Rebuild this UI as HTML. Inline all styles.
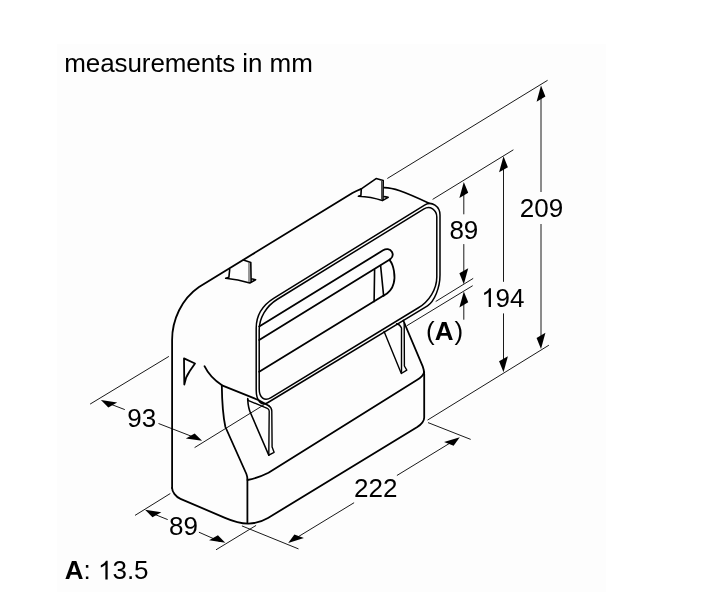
<!DOCTYPE html>
<html><head><meta charset="utf-8"><style>
html,body{margin:0;padding:0;background:#fff;}
svg{display:block;filter:grayscale(1);}
text{font-family:"Liberation Sans",sans-serif;fill:#000;}
</style></head><body>
<svg width="716" height="596" viewBox="0 0 716 596">
<rect x="57" y="44" width="549" height="548" fill="#fdfdfd"/>
<g stroke="#1a1a1a" stroke-width="1" fill="none">
<line x1="387.3" y1="178.5" x2="547.6" y2="80.3"/>
<line x1="432.6" y1="199.4" x2="513.4" y2="149.8"/>
<line x1="427.5" y1="420.1" x2="548.9" y2="345.2"/>
<line x1="435.7" y1="301.5" x2="473.2" y2="278.4"/>
<line x1="406.9" y1="325.7" x2="472.7" y2="285.7"/>
<line x1="541.0" y1="90" x2="541.0" y2="192"/>
<line x1="541.0" y1="224" x2="541.0" y2="344"/>
<line x1="503.5" y1="160" x2="503.5" y2="281.8"/>
<line x1="503.5" y1="313.4" x2="503.5" y2="366"/>
<line x1="463.8" y1="186" x2="463.8" y2="214.3"/>
<line x1="463.8" y1="244.1" x2="463.8" y2="272"/>
<line x1="463.8" y1="300" x2="463.8" y2="319.7"/>
<line x1="90.1" y1="404.1" x2="168.9" y2="356.4"/>
<line x1="194.6" y1="447.6" x2="264.3" y2="404.6"/>
<line x1="105" y1="402" x2="124.8" y2="409.6"/>
<line x1="158.5" y1="423.5" x2="196" y2="438"/>
<line x1="135" y1="515.4" x2="170.3" y2="493.5"/>
<line x1="216" y1="549.8" x2="256.1" y2="525.4"/>
<line x1="150" y1="512.5" x2="167.7" y2="519.6"/>
<line x1="198.9" y1="532.2" x2="220" y2="541.5"/>
<line x1="241.9" y1="525.9" x2="298.5" y2="548.9"/>
<line x1="428" y1="422.6" x2="470.7" y2="439.4"/>
<line x1="292" y1="540.5" x2="354.1" y2="502.7"/>
<line x1="396.9" y1="475.5" x2="455" y2="440"/>
</g>
<g fill="#000">
<polygon points="541.0,85.6 536.58,101.65 545.42,96.55"/>
<polygon points="541.0,348.9 536.58,337.95 545.42,332.85"/>
<polygon points="503.5,156.3 499.08,172.35 507.92,167.25"/>
<polygon points="503.5,372.3 499.08,361.35 507.92,356.25"/>
<polygon points="463.8,181.9 459.38,197.95 468.22,192.85"/>
<polygon points="463.8,284.2 459.38,273.25 468.22,268.15"/>
<polygon points="463.8,291.4 459.38,307.45 468.22,302.35"/>
<polygon points="100.9,400.1 108.34,407.47 117.17,402.38"/>
<polygon points="202.1,440.8 185.83,438.52 194.66,433.43"/>
<polygon points="145.1,509.8 152.47,517.34 161.3,512.25"/>
<polygon points="225.3,542.7 209.1,540.25 217.93,535.16"/>
<polygon points="288.2,542.9 294.38,534.44 303.91,538.09"/>
<polygon points="459.8,437.3 444.09,442.11 453.62,445.76"/>
</g>
<g stroke="#000" stroke-width="1.5" fill="none">
<path d="M 256.2,388 L 256.2,328 C 256.2,315.3 262.6,305.2 274,298.1 L 425,204.8 C 431.6,200.8 440,206.3 440,215 L 440,275 C 440,287.6 434.4,301.5 427.5,305.8 L 268,402.5 C 261.5,406.6 256.2,400.9 256.2,390 Z"/>
<path d="M 259.2,388 L 259.2,330 C 259.2,318 266.3,306.1 277,299.5 L 424,208.8 C 429.9,205.1 436.8,209.7 436.8,217 L 436.8,277 C 436.8,289 429.2,301.4 418,308 L 271,397.6 C 264.5,401.6 259.2,397.7 259.2,389 Z"/>
</g>
<g stroke="#000" stroke-width="1.8" fill="none" stroke-linejoin="round" stroke-linecap="round">
<path d="M 172.1,488 L 172.1,340 C 172.1,320 181.5,299 199,287 L 352.4,193 Q 357,190.6 361.3,188.9"/>
<path d="M 361.3,188.9 L 376.1,178.6 L 383.2,180.6 L 383.0,200.2 M 361.3,188.9 L 360.9,195.4 L 358.4,196.3 Q 371,196.8 382.4,200.6 L 388.2,197.4 L 384.6,196.6" stroke-width="1.6"/>
<path d="M 381.6,180.4 L 381.6,199.6" stroke-width="1.1" stroke="#444"/>
<path d="M 384.4,187.6 C 393,187.8 402,190.6 429,203.2"/>
<path d="M 243.5,260.1 L 250.8,262.4 L 251.1,281.8 M 229.7,269.5 L 228.9,277.2 L 225.7,278.2 Q 238,279.2 249.8,283 L 255.6,279.7 L 251.6,278.8" stroke-width="1.6"/>
<path d="M 249.0,263 L 249.0,281.8" stroke-width="1.1" stroke="#444"/>
<path d="M 184,358.4 L 195.0,363.5 L 189.8,371 Q 185.3,377.5 184.3,384.5 Z"/>
<path d="M 204.5,366.2 Q 210,377.5 222,385.3 L 258.3,400 L 268.8,405.8"/>
<path d="M 221.8,385.2 C 222,400 222.8,415 225.4,427 L 246.4,474 Q 247.4,476.5 247.4,480 L 247.4,523"/>
<path d="M 172.1,488 C 172.1,491.9 175.8,496.8 180.5,498.9 L 225,517.8 C 242.15,525.2 255.05,525.6 268,518 L 416.9,427.3 Q 424.2,422.6 424.2,417.5 L 424.2,374.4"/>
<path d="M 247.5,480 Q 258,478 268.5,472.7 L 416.9,380 Q 423,376.5 424.2,372"/>
<path d="M 403.3,320.5 L 422.7,366.3 Q 424.2,370 424.2,374.4"/>
<path d="M 268.8,405.8 Q 271.8,407.5 271.8,411 L 272.1,447 L 274.1,452.3 L 268.8,455.2 L 269.2,411 Q 269,409 267.3,408.3 L 248,400.4 L 247.7,398.4" stroke-width="1.4"/>
<path d="M 247.7,399.2 C 248,405 249,410 251,414 L 268.8,455.2" stroke-width="1.6"/>
<path d="M 384.1,331.5 L 401.3,373.5 L 406.8,370.1 L 404.4,366 L 404.2,323.5" stroke-width="1.4"/>
<path d="M 401.5,372 L 401.5,328 Q 400,324.5 396.6,323.8" stroke-width="1.4"/>
<path d="M 259.2,326.5 L 383.1,250.3 C 386,248.5 390,248.5 392,252 C 393.5,255 392.5,257.5 390.2,259.3" stroke-width="1.8"/>
<path d="M 259.2,340.1 L 390.2,259.3" stroke-width="1.8"/>
<path d="M 259.2,371.7 L 383.6,295.6" stroke-width="1.8"/>
<path d="M 389.6,260.1 C 394,265 395.5,277 393.7,283.2 C 392.5,288 389,292.8 383.6,295.6" stroke-width="1.8"/>
<path d="M 374.6,269.7 L 374.1,301.6 M 380.6,265.6 L 383.6,295.6" stroke-width="1.6"/>
</g>
<g>
<text x="519.8" y="217.2" font-size="26" font-weight="normal">209</text>
<text x="449.4" y="238.8" font-size="26" font-weight="normal">89</text>
<text x="127.3" y="426.5" font-size="26" font-weight="normal">93</text>
<text x="169.1" y="535.0" font-size="26" font-weight="normal">89</text>
<text x="354" y="497" font-size="26" font-weight="normal">222</text>
<text x="426" y="339.6" font-size="26"><tspan dy="0.4">(</tspan><tspan font-weight="bold" dy="-0.4">A</tspan><tspan dx="1" dy="0.4">)</tspan></text>
<text x="64.8" y="579.4" font-size="26"><tspan font-weight="bold">A</tspan>:</text>
<path d="M 107.66,579.40 L 105.37,579.40 L 105.37,564.84 Q 104.57,565.63 103.43,566.32 Q 102.16,567.06 100.80,567.54 L 100.80,565.33 Q 102.79,564.42 104.06,563.34 Q 105.46,562.13 105.90,560.79 L 107.66,560.79 Z" fill="#000"/>
<text x="64.2" y="71.7" font-size="26" textLength="248.6" lengthAdjust="spacing">measurements in mm</text>
<text x="112.43" y="579.4" font-size="26">3.5</text>
<path d="M 490.96,306.90 L 488.67,306.90 L 488.67,292.34 Q 487.87,293.13 486.73,293.82 Q 485.46,294.56 484.10,295.04 L 484.10,292.83 Q 486.09,291.92 487.36,290.84 Q 488.76,289.63 489.20,288.29 L 490.96,288.29 Z" fill="#000"/>
<text x="495.6" y="306.9" font-size="26">94</text>
</g>
</svg>
</body></html>
